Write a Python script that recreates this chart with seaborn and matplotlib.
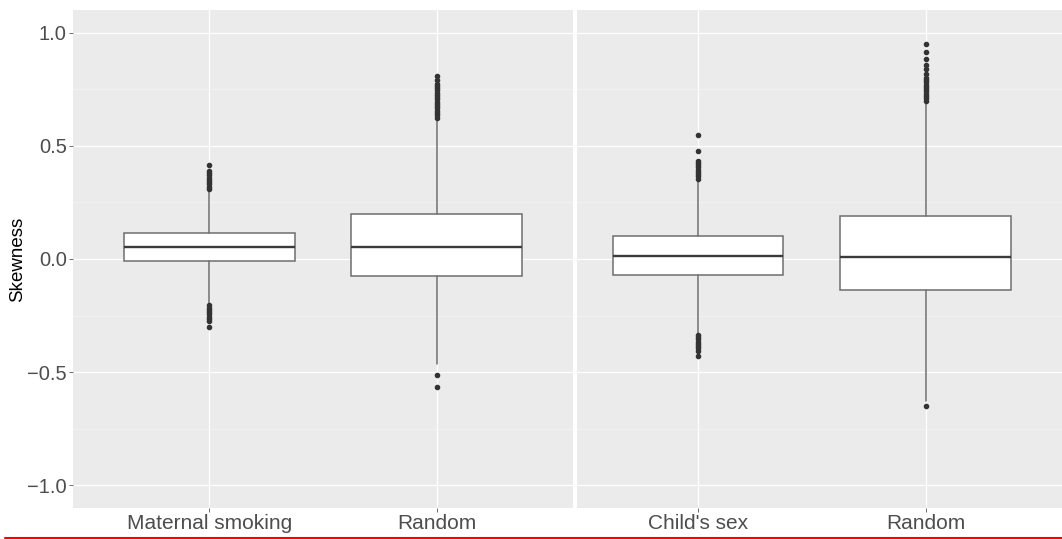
import matplotlib
matplotlib.use("Agg")
import matplotlib.pyplot as plt
import seaborn as sns

sns.set_theme(style="darkgrid", rc={"axes.facecolor": "#EBEBEB", "grid.color": "white"})
plt.rcParams['font.family'] = ['Liberation Sans', 'DejaVu Sans']

# two facets, two boxes each
panel1_labels = ["Maternal smoking", "Random"]
panel2_labels = ["Child's sex", "Random"]

# five-number summaries: whisker low, Q1, median, Q3, whisker high
smoking_stats = [-0.195, -0.011, 0.051, 0.117, 0.305]
random1_stats = [-0.466, -0.077, 0.055, 0.201, 0.615]
sex_stats = [-0.325, -0.070, 0.015, 0.103, 0.350]
random2_stats = [-0.628, -0.135, 0.007, 0.192, 0.692]

# outliers
smoking_out = [0.31, 0.32, 0.33, 0.34, 0.35, 0.36, 0.37, 0.38, 0.39, 0.417,
               -0.205, -0.215, -0.225, -0.235, -0.245, -0.255, -0.265, -0.275, -0.30]
random1_out = [0.625, 0.635, 0.645, 0.655, 0.665, 0.675, 0.685, 0.695, 0.705,
               0.715, 0.725, 0.735, 0.745, 0.755, 0.765, 0.775, 0.79, 0.81,
               -0.514, -0.567]
sex_out = [0.355, 0.365, 0.375, 0.385, 0.395, 0.405, 0.415, 0.425, 0.435, 0.475, 0.55,
           -0.335, -0.345, -0.355, -0.365, -0.375, -0.385, -0.395, -0.405, -0.43]
random2_out = [0.70, 0.71, 0.72, 0.73, 0.74, 0.75, 0.76, 0.77, 0.78, 0.79, 0.80,
               0.819, 0.84, 0.859, 0.884, 0.913, 0.948, -0.651]


def make_stats(s, out):
    return {"whislo": s[0], "q1": s[1], "med": s[2], "q3": s[3], "whishi": s[4],
            "fliers": out}


fig = plt.figure(figsize=(10.62, 5.39), dpi=100)
ax1 = fig.add_axes([73 / 1062, 1 - 508 / 539, 500 / 1062, 498 / 539])
ax2 = fig.add_axes([577 / 1062, 1 - 508 / 539, 485 / 1062, 498 / 539])

box_kw = dict(
    positions=[1, 2], widths=0.75, showcaps=False, patch_artist=True,
    boxprops=dict(facecolor="white", edgecolor="#6e6e6e", linewidth=1.1),
    medianprops=dict(color="#3a3a3a", linewidth=1.7),
    whiskerprops=dict(color="#6e6e6e", linewidth=1.1),
    flierprops=dict(marker="o", markersize=3.0, markerfacecolor="#333333",
                    markeredgecolor="#333333", linestyle="none"),
    zorder=3,
)

ax1.bxp([make_stats(smoking_stats, smoking_out), make_stats(random1_stats, random1_out)], **box_kw)
ax2.bxp([make_stats(sex_stats, sex_out), make_stats(random2_stats, random2_out)], **box_kw)

for ax, labels, xlim in [(ax1, panel1_labels, (0.4, 2.6)), (ax2, panel2_labels, (0.467, 2.6))]:
    ax.set_xlim(*xlim)
    ax.set_ylim(-1.1, 1.1)
    ax.set_xticks([1, 2])
    ax.set_xticklabels(labels)
    ax.set_yticks([-1.0, -0.5, 0.0, 0.5, 1.0])
    ax.set_yticks([-0.75, -0.25, 0.25, 0.75], minor=True)
    ax.grid(which="major", color="white", linewidth=0.9)
    ax.grid(which="minor", axis="y", color="#f5f5f5", linewidth=0.5)
    ax.set_axisbelow(True)
    for sp in ax.spines.values():
        sp.set_visible(False)
    ax.tick_params(axis="x", which="major", length=3.0, width=0.6, color="#555555",
                   labelsize=15, labelcolor="#4D4D4D", pad=1.0, bottom=True)
    ax.tick_params(axis="y", which="both", left=False)

ax1.tick_params(axis="y", which="major", left=True, length=3.0, width=0.6, color="#555555",
                labelsize=14.5, labelcolor="#4D4D4D", pad=1.5)
ax1.set_yticklabels(["\u22121.0", "\u22120.5", "0.0", "0.5", "1.0"])
ax2.set_yticklabels([])
ax1.set_ylabel("Skewness", fontsize=13.5, color="black")
ax1.yaxis.set_label_coords(-0.094, 0.5)

# thin red rule along the bottom edge
fig.add_artist(plt.Line2D([0.005, 1.0], [1.5 / 539, 1.5 / 539], color="red", linewidth=1.5))

fig.savefig("out.png", dpi=100)
